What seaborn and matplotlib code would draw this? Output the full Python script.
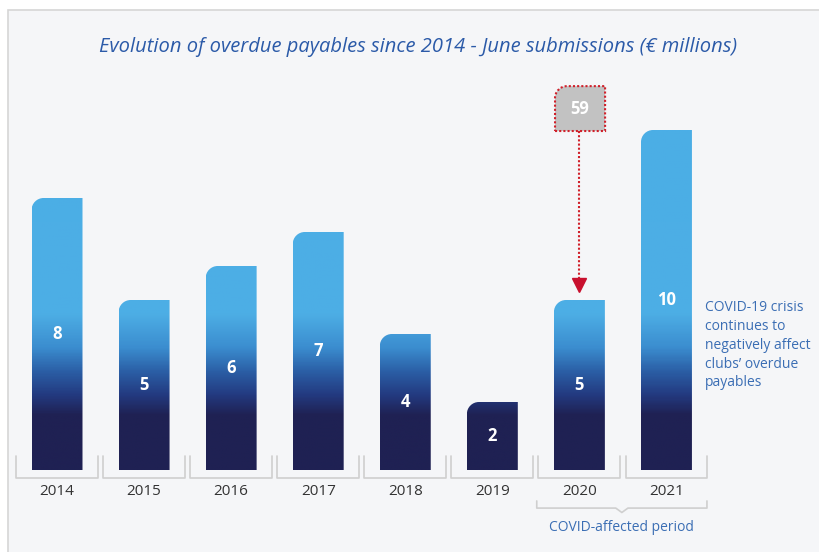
import numpy as np
import pandas as pd
import matplotlib
matplotlib.use("Agg")
import matplotlib.pyplot as plt
import seaborn as sns
from matplotlib.path import Path
from matplotlib.patches import PathPatch, Rectangle
from matplotlib.colors import LinearSegmentedColormap, Normalize

years = ["2014", "2015", "2016", "2017", "2018", "2019", "2020", "2021"]
values = [8, 5, 6, 7, 4, 2, 5, 10]
covid_years = ["2020", "2021"]
highlight_year = "2020"
highlight_value = 59
title = "Evolution of overdue payables since 2014 - June submissions (€ millions)"
side_note = "COVID-19 crisis\ncontinues to\nnegatively affect\nclubs’ overdue\npayables"
period_label = "COVID-affected period"

sns.set_style("white")
plt.rcParams["font.family"] = ["Open Sans", "DejaVu Sans"]

W, H = 819, 552
fig = plt.figure(figsize=(W / 100, H / 100), dpi=100)
fig.patch.set_facecolor("white")
fig.patches.append(Rectangle((8 / W, -0.01), 1.0, (H - 10) / H + 0.01, transform=fig.transFigure,
                             facecolor="#f5f6f8", edgecolor="#d6d6d6", lw=1.2, zorder=-10))

ax = fig.add_axes([13.5 / W, 82 / H, (710 - 13.5) / W, 408 / H])
ax.set_facecolor("none")

df = pd.DataFrame({"year": years, "value": values})
sns.barplot(data=df, x="year", y="value", ax=ax, width=0.585, color="#4baee6", errorbar=None)

cmap = LinearSegmentedColormap.from_list("g", [
    (0.0, "#1f2153"), (0.16, "#1f2153"), (0.22, "#233a80"), (0.29, "#2b5fa6"),
    (0.36, "#3b8dcf"), (0.46, "#4daee5"), (1.0, "#4baee6")])
norm = Normalize(0, 10)

rx, ry = 12 / 87.07, 12 / 34.0


def tl_round_path(x0, y0, w, h):
    k = 0.5523
    verts = [(x0, y0), (x0 + w, y0), (x0 + w, y0 + h), (x0 + rx, y0 + h),
             (x0 + rx - k * rx, y0 + h), (x0, y0 + h - ry + k * ry), (x0, y0 + h - ry), (x0, y0)]
    codes = [Path.MOVETO, Path.LINETO, Path.LINETO, Path.LINETO,
             Path.CURVE4, Path.CURVE4, Path.CURVE4, Path.CLOSEPOLY]
    return Path(verts, codes)


bars = list(ax.patches)
for p, v in zip(bars, values):
    x0, w, h = p.get_x(), p.get_width(), p.get_height()
    p.set_visible(False)
    clip = PathPatch(tl_round_path(x0, 0, w, h), facecolor="none", edgecolor="none")
    ax.add_patch(clip)
    ys = np.linspace(0, h, 300).reshape(-1, 1)
    arr = np.repeat(ys, 2, axis=1)
    im = ax.imshow(arr, extent=[x0, x0 + w, 0, h], origin="lower", cmap=cmap, norm=norm,
                   aspect="auto", interpolation="bilinear", zorder=2)
    im.set_clip_path(clip)
    ax.text(x0 + w / 2, h / 2, str(v), ha="center", va="center", color="white",
            fontsize=12, fontweight="bold", zorder=3)

ax.set_xlim(-0.5, len(years) - 0.5)
ax.set_ylim(0, 12)
for s in ax.spines.values():
    s.set_visible(False)
ax.set_yticks([])
ax.set_xlabel("")
ax.set_ylabel("")
ax.tick_params(axis="x", length=0, pad=10, labelsize=11, labelcolor="#333333")

# brackets under each bar
bc = "#cfcfcf"
for i in range(len(years)):
    ax.plot([i - 0.47, i - 0.47, i + 0.47, i + 0.47], [0.41, -0.235, -0.235, 0.41],
            color=bc, lw=1.2, clip_on=False, zorder=1)

# COVID bracket
ci = [years.index(y) for y in covid_years]
xl, xr = ci[0] - 0.49, ci[-1] + 0.465
xm = (xl + xr) / 2
ax.plot([xl, xl, xm - 0.07, xm, xm + 0.07, xr, xr],
        [-0.91, -1.12, -1.12, -1.25, -1.12, -1.12, -0.91],
        color=bc, lw=1.2, clip_on=False)
ax.text(xm, -1.68, period_label, ha="center", va="center", fontsize=10, color="#3b6eb4")

# highlight box
hi = years.index(highlight_year)
bx0, bw = hi - 0.28, 0.575
by0, bh = 9.97, 1.32
ax.add_patch(PathPatch(tl_round_path(bx0, by0, bw, bh), facecolor="#c2c2c2",
                       edgecolor="#d0202a", lw=1.5, ls=(0, (1, 1)), zorder=4))
ax.text(bx0 + bw / 2, by0 + bh / 2, str(highlight_value), ha="center", va="center",
        color="white", fontsize=12, fontweight="bold", zorder=5)
ax.plot([hi, hi], [by0, values[hi] + 0.6], color="#d0202a", lw=1.5, ls=(0, (1, 1)), zorder=4)
ax.plot([hi], [values[hi] + 0.45], marker="v", ms=10, color="#c8102e", mec="#c8102e", zorder=4)

fig.text(418 / W, (H - 47) / H, title, ha="center", va="center", fontsize=14.5,
         style="italic", color="#2b5aa8")
fig.text(705 / W, (H - 300) / H, side_note, ha="left", va="top", fontsize=10,
         color="#3b6eb4", linespacing=1.35)

fig.savefig("out.png", dpi=100, facecolor=fig.get_facecolor())
